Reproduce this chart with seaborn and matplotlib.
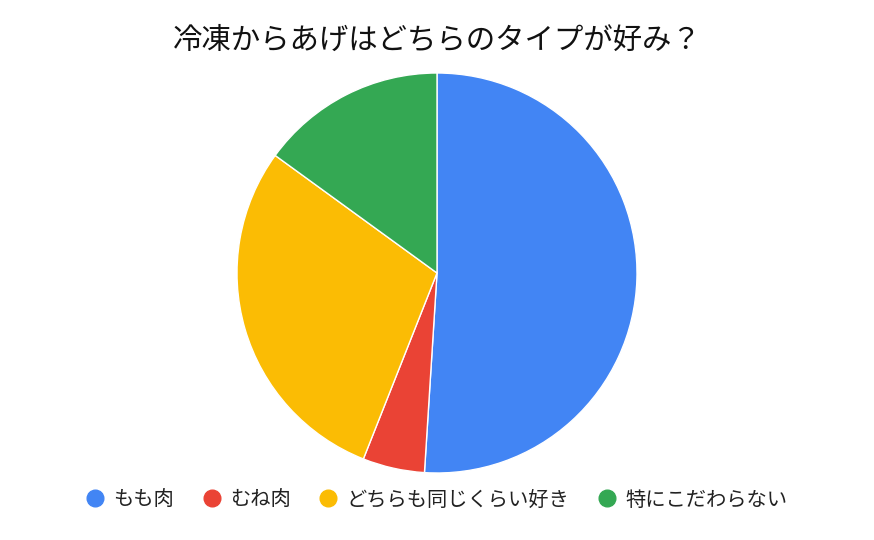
import matplotlib
matplotlib.use("Agg")
import matplotlib.pyplot as plt
from matplotlib.lines import Line2D
import seaborn as sns

sns.set_style("white")
plt.rcParams['font.family'] = ['Noto Sans CJK JP', 'DejaVu Sans']

# データ
labels = ['もも肉', 'むね肉', 'どちらも同じくらい好き', '特にこだわらない']
values = [51, 5, 29, 15]
colors = ['#4285F4', '#EA4335', '#FBBC04', '#34A853']
title = '冷凍からあげはどちらのタイプが好み？'

fig = plt.figure(figsize=(8.74, 5.4), dpi=100)
ax = fig.add_axes([237 / 874, 67 / 540, 400 / 874, 400 / 540])
ax.pie(values, colors=colors, startangle=90, counterclock=False,
       wedgeprops=dict(edgecolor='white', linewidth=1))
ax.set_xlim(-1, 1)
ax.set_ylim(-1, 1)
ax.set_aspect('equal')
ax.axis('off')

fig.text(0.5, 1 - 40 / 540, title, ha='center', va='center', fontsize=21.2, color='#111111')

handles = [Line2D([0], [0], marker='o', linestyle='none', markersize=12,
                  markerfacecolor=c, markeredgecolor=c) for c in colors]
fig.legend(handles, labels, loc='center', bbox_to_anchor=(0.5, 1 - 500 / 540),
           ncol=4, frameon=False, fontsize=14.6, handlelength=0.8,
           handletextpad=0.5, columnspacing=1.45, labelcolor='#222222')

fig.savefig('out.png', dpi=100)
